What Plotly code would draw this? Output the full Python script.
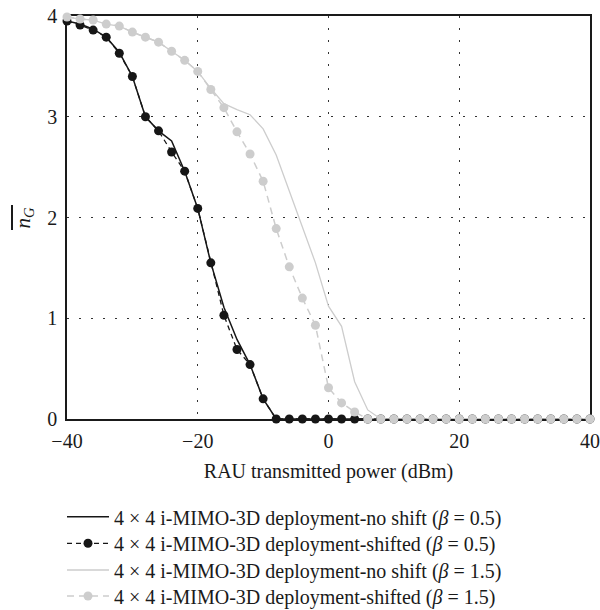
import plotly.graph_objects as go

power_dbm = list(range(-40, 41, 2))

noshift_b05 = [3.95, 3.92, 3.87, 3.79, 3.64, 3.40, 3.00, 2.86, 2.76, 2.46,
               2.09, 1.55, 1.11, 0.79, 0.54, 0.20, 0, 0, 0, 0,
               0, 0, 0, 0, 0, 0, 0, 0, 0, 0,
               0, 0, 0, 0, 0, 0, 0, 0, 0, 0, 0]
shifted_b05 = [3.95, 3.91, 3.86, 3.79, 3.63, 3.40, 3.00, 2.86, 2.65, 2.46,
               2.09, 1.55, 1.03, 0.69, 0.54, 0.20, 0, 0, 0, 0,
               0, 0, 0, 0, 0, 0, 0, 0, 0, 0,
               0, 0, 0, 0, 0, 0, 0, 0, 0, 0, 0]
noshift_b15 = [3.99, 3.97, 3.96, 3.92, 3.90, 3.84, 3.79, 3.74, 3.65, 3.56,
               3.45, 3.28, 3.13, 3.07, 3.02, 2.88, 2.62, 2.27, 1.92, 1.55,
               1.12, 0.92, 0.37, 0.09, 0, 0, 0, 0, 0, 0,
               0, 0, 0, 0, 0, 0, 0, 0, 0, 0, 0]
shifted_b15 = [3.99, 3.97, 3.96, 3.92, 3.90, 3.84, 3.79, 3.74, 3.65, 3.56,
               3.45, 3.27, 3.09, 2.85, 2.63, 2.36, 1.89, 1.51, 1.20, 0.93,
               0.31, 0.16, 0.07, 0, 0, 0, 0, 0, 0, 0,
               0, 0, 0, 0, 0, 0, 0, 0, 0, 0, 0]

names = [
    "4 × 4 i-MIMO-3D deployment-no shift (<i>β</i> = 0.5)",
    "4 × 4 i-MIMO-3D deployment-shifted (<i>β</i> = 0.5)",
    "4 × 4 i-MIMO-3D deployment-no shift (<i>β</i> = 1.5)",
    "4 × 4 i-MIMO-3D deployment-shifted (<i>β</i> = 1.5)",
]

BLACK = "#161616"
GREY = "#cdcdcd"
TEXT = "#1a1a1a"
FONT = "Liberation Serif"
FS = 20

fig = go.Figure()
fig.add_trace(go.Scatter(x=power_dbm, y=noshift_b05, name=names[0], mode="lines",
                         line=dict(color=BLACK, width=1.5), cliponaxis=False,
                         legend="legend"))
fig.add_trace(go.Scatter(x=power_dbm, y=shifted_b05, name=names[1], mode="lines+markers",
                         line=dict(color=BLACK, width=1.3, dash="5px,4px"),
                         marker=dict(color=BLACK, size=9), cliponaxis=False,
                         legend="legend2"))
fig.add_trace(go.Scatter(x=power_dbm, y=noshift_b15, name=names[2], mode="lines",
                         line=dict(color=GREY, width=1.3), cliponaxis=False,
                         legend="legend3"))
fig.add_trace(go.Scatter(x=power_dbm, y=shifted_b15, name=names[3], mode="lines+markers",
                         line=dict(color=GREY, width=1.5, dash="7px,5px"),
                         marker=dict(color=GREY, size=9), cliponaxis=False,
                         legend="legend4"))

axis_common = dict(
    showline=True, linecolor=TEXT, linewidth=1.5, mirror=True,
    showgrid=True, gridcolor="#333333", gridwidth=1.2, griddash="1.5px,10.5px",
    zeroline=False, ticks="", layer="below traces",
    tickfont=dict(family=FONT, size=FS, color=TEXT),
)

fig.update_xaxes(range=[-40, 40], tickvals=[-40, -20, 0, 20, 40],
                 ticklabelstandoff=3,
                 title=dict(text="RAU transmitted power (dBm)",
                            font=dict(family=FONT, size=FS, color=TEXT),
                            standoff=13),
                 **axis_common)
fig.update_yaxes(range=[0, 4], tickvals=[0, 1, 2, 3, 4], ticklabelstandoff=4,
                 **axis_common)

fig.add_annotation(xref="paper", yref="paper", x=-0.0841, y=0.5,
                   xanchor="center", yanchor="middle",
                   text="<i>n</i><sub><i>G</i></sub>", textangle=-90,
                   showarrow=False, font=dict(family=FONT, size=21, color=TEXT))
fig.add_shape(type="line", xref="paper", yref="paper",
              x0=-0.1052, x1=-0.1052, y0=0.469, y1=0.531,
              line=dict(color=TEXT, width=2))

row_y = [516.7, 543.3, 570.0, 596.0]
leg_common = dict(xref="container", yref="container", x=62 / 600,
                  xanchor="left", yanchor="middle",
                  font=dict(family=FONT, size=FS, color=TEXT),
                  itemwidth=42, bgcolor="rgba(0,0,0,0)", borderwidth=0)
legends = {}
for i, key in enumerate(["legend", "legend2", "legend3", "legend4"]):
    legends[key] = dict(y=1 - row_y[i] / 610, **leg_common)

fig.update_layout(
    width=600, height=610,
    margin=dict(l=67, r=10, t=16, b=191, autoexpand=False),
    plot_bgcolor="white", paper_bgcolor="white",
    font=dict(family=FONT, size=FS, color=TEXT),
    showlegend=True,
    **legends,
)

fig.write_html("out.html",
               config={"displayModeBar": False},
               post_script="document.body.style.margin='0';document.body.style.padding='0';")
